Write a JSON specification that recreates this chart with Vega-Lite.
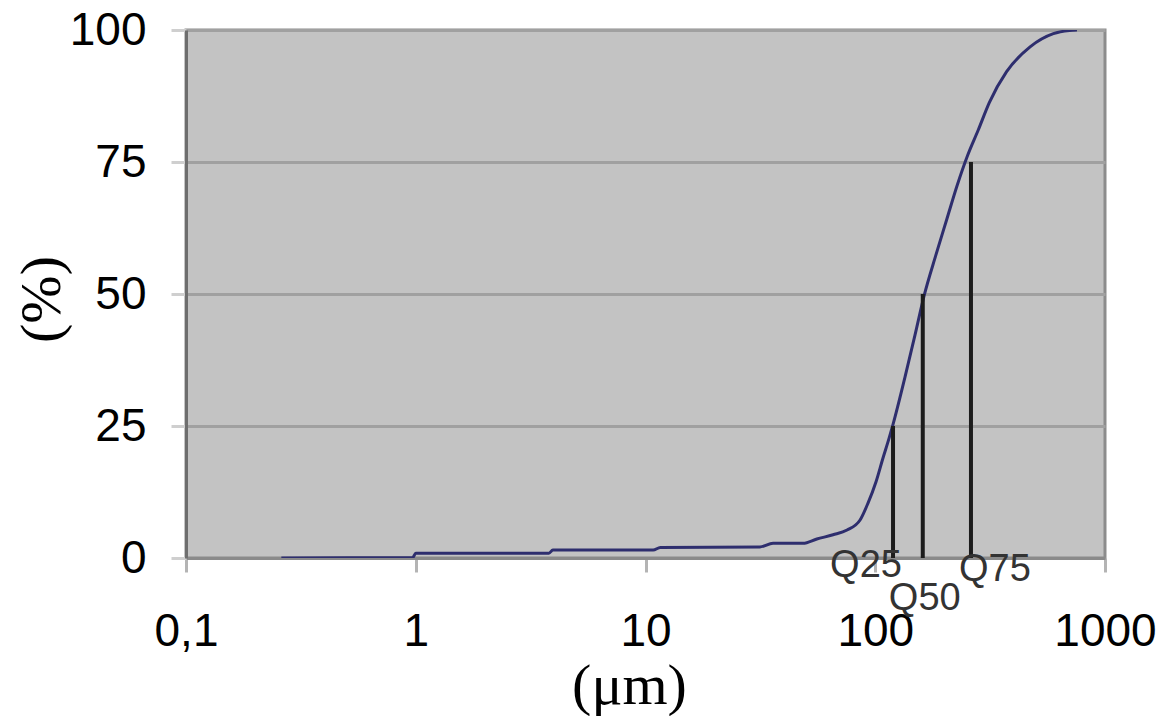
{
  "$schema": "https://vega.github.io/schema/vega-lite/v6.json",
  "width": 919,
  "height": 528,
  "autosize": {"type": "none"},
  "padding": {"left": 186, "top": 30, "right": 58, "bottom": 158},
  "background": "white",
  "config": {
    "view": {"fill": "#c3c3c3", "stroke": "#8c8c8c", "strokeWidth": 3},
    "font": "Liberation Sans"
  },
  "datasets": {
    "curve": [
      {"d": 0.26, "p": 0}, {"d": 0.97, "p": 0.1}, {"d": 1.0, "p": 0.9},
      {"d": 3.8, "p": 0.9}, {"d": 3.95, "p": 1.5}, {"d": 10.8, "p": 1.5},
      {"d": 11.6, "p": 2.0}, {"d": 31.5, "p": 2.1}, {"d": 35.9, "p": 2.8},
      {"d": 48.5, "p": 2.8}, {"d": 55.7, "p": 3.6}, {"d": 65.5, "p": 4.4},
      {"d": 75.4, "p": 5.3}, {"d": 85.9, "p": 7.2}, {"d": 93, "p": 10.4},
      {"d": 100.7, "p": 14.4}, {"d": 108, "p": 18.9}, {"d": 114.9, "p": 22.7},
      {"d": 119.5, "p": 25.3}, {"d": 134.8, "p": 34.3}, {"d": 148.9, "p": 42.2},
      {"d": 163, "p": 49.6}, {"d": 183.7, "p": 57.4}, {"d": 205, "p": 64.2},
      {"d": 227, "p": 70.5}, {"d": 250.6, "p": 75.9}, {"d": 281, "p": 81.1},
      {"d": 314, "p": 86.3}, {"d": 373, "p": 92.1}, {"d": 472, "p": 96.8},
      {"d": 596, "p": 99.3}, {"d": 700, "p": 99.9}, {"d": 755, "p": 100}
    ],
    "quant": [
      {"q": "Q25", "d": 119.5, "p": 25},
      {"q": "Q50", "d": 161, "p": 50},
      {"q": "Q75", "d": 261, "p": 75}
    ]
  },
  "layer": [
    {
      "data": {"name": "curve"},
      "mark": {"type": "line", "color": "#2e2e6e", "strokeWidth": 3, "clip": true, "interpolate": "monotone"},
      "encoding": {
        "x": {
          "field": "d", "type": "quantitative",
          "scale": {"type": "log", "domain": [0.1, 1000], "nice": false},
          "axis": {
            "values": [0.1, 1, 10, 100, 1000],
            "labelExpr": "replace(toString(datum.value), '.', ',')",
            "grid": false,
            "domainColor": "#8a8a8a", "domainWidth": 3,
            "tickColor": "#b4b4b4", "tickWidth": 3, "tickSize": 14,
            "labelFont": "Liberation Sans", "labelFontSize": 46, "labelColor": "#000000",
            "labelPadding": 37, "labelFlush": false, "labelOverlap": false,
            "title": "(μm)", "titleFont": "Liberation Serif", "titleFontSize": 58,
            "titleFontWeight": "normal", "titleColor": "#000000",
            "titleX": 443, "titleY": 145, "titleAlign": "center", "titleBaseline": "alphabetic"
          }
        },
        "y": {
          "field": "p", "type": "quantitative",
          "scale": {"domain": [0, 100], "nice": false},
          "axis": {
            "values": [0, 25, 50, 75, 100],
            "grid": true, "gridColor": "#a0a0a0", "gridWidth": 3,
            "domainColor": "#6e6e6e", "domainWidth": 3,
            "tickColor": "#cfcfcf", "tickWidth": 3, "tickSize": 15,
            "labelFont": "Liberation Sans", "labelFontSize": 46, "labelColor": "#000000",
            "labelPadding": 25, "labelFlush": false, "labelOverlap": false,
            "title": "(%)", "titleFont": "Liberation Serif", "titleFontSize": 58,
            "titleFontWeight": "normal", "titleColor": "#000000",
            "titleX": -144, "titleY": 269, "titleAngle": 270,
            "titleAlign": "center", "titleBaseline": "middle"
          }
        }
      }
    },
    {
      "data": {"name": "quant"},
      "mark": {"type": "rule", "color": "#1c1c1c", "strokeWidth": 4},
      "encoding": {
        "x": {"field": "d", "type": "quantitative"},
        "y": {"field": "p", "type": "quantitative"},
        "y2": {"datum": 0}
      }
    },
    {
      "data": {"name": "quant"},
      "transform": [{"filter": "datum.q === 'Q25'"}],
      "mark": {"type": "text", "font": "Liberation Sans", "fontSize": 38, "color": "#333333", "align": "center", "baseline": "middle", "dx": -27, "dy": 8},
      "encoding": {"x": {"field": "d", "type": "quantitative"}, "y": {"datum": 0, "type": "quantitative"}, "text": {"field": "q"}}
    },
    {
      "data": {"name": "quant"},
      "transform": [{"filter": "datum.q === 'Q50'"}],
      "mark": {"type": "text", "font": "Liberation Sans", "fontSize": 38, "color": "#333333", "align": "center", "baseline": "middle", "dx": 2, "dy": 41},
      "encoding": {"x": {"field": "d", "type": "quantitative"}, "y": {"datum": 0, "type": "quantitative"}, "text": {"field": "q"}}
    },
    {
      "data": {"name": "quant"},
      "transform": [{"filter": "datum.q === 'Q75'"}],
      "mark": {"type": "text", "font": "Liberation Sans", "fontSize": 38, "color": "#333333", "align": "center", "baseline": "middle", "dx": 24, "dy": 12},
      "encoding": {"x": {"field": "d", "type": "quantitative"}, "y": {"datum": 0, "type": "quantitative"}, "text": {"field": "q"}}
    }
  ]
}
